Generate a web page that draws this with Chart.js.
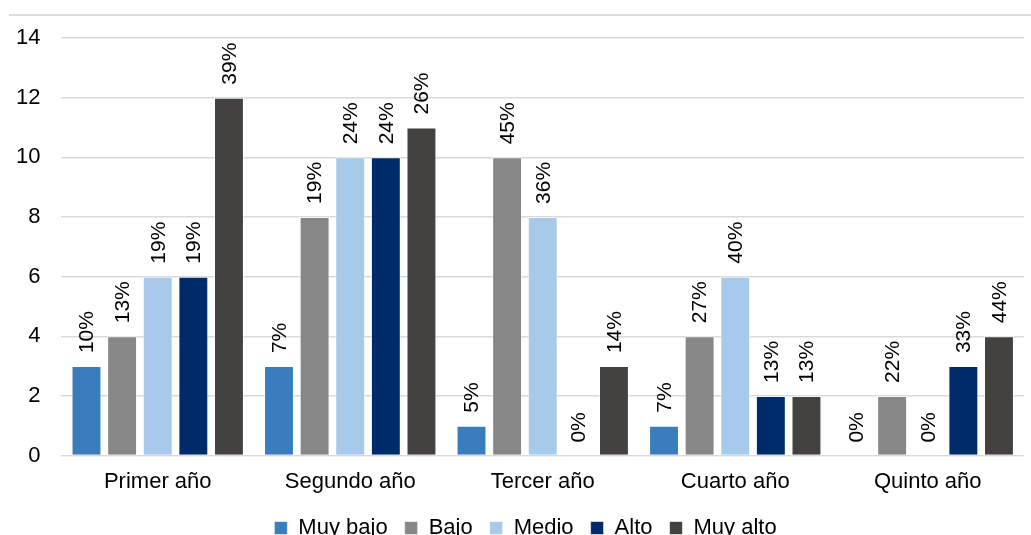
<!DOCTYPE html>
<html>
<head>
<meta charset="utf-8">
<script src="https://cdn.jsdelivr.net/npm/chart.js@4"></script>
<style>
  html, body { margin: 0; padding: 0; background: #fff; }
  #wrap { position: relative; width: 1031px; height: 535px; }
  #topline { position: absolute; left: 9px; right: 0; top: 14px; border-top: 2px solid #dcdcdc; }
</style>
</head>
<body>
<div id="wrap">
  <div id="topline"></div>
  <canvas id="chart" width="1031" height="535"></canvas>
</div>
<script>
const categories = ['Primer año', 'Segundo año', 'Tercer año', 'Cuarto año', 'Quinto año'];
const seriesNames = ['Muy bajo', 'Bajo', 'Medio', 'Alto', 'Muy alto'];
const muyBajo = [3, 3, 1, 1, 0];
const bajo = [4, 8, 10, 4, 2];
const medio = [6, 10, 8, 6, 0];
const alto = [6, 10, 0, 2, 3];
const muyAlto = [12, 11, 3, 2, 4];
const muyBajoPct = ['10%', '7%', '5%', '7%', '0%'];
const bajoPct = ['13%', '19%', '45%', '27%', '22%'];
const medioPct = ['19%', '24%', '36%', '40%', '0%'];
const altoPct = ['19%', '24%', '0%', '13%', '33%'];
const muyAltoPct = ['39%', '26%', '14%', '13%', '44%'];
const yTicks = [0, 2, 4, 6, 8, 10, 12, 14];
const colors = ['#3a7dbc', '#878787', '#a7c9ea', '#002b6b', '#444241'];

const values = [muyBajo, bajo, medio, alto, muyAlto];
const pcts = [muyBajoPct, bajoPct, medioPct, altoPct, muyAltoPct];

const FONT = '"Liberation Sans", Arial, sans-serif';

// rotated percentage labels above each bar
const pctLabels = {
  id: 'pctLabels',
  afterDatasetsDraw(chart) {
    const ctx = chart.ctx;
    ctx.save();
    ctx.font = '21px ' + FONT;
    ctx.fillStyle = '#000';
    ctx.textAlign = 'left';
    ctx.textBaseline = 'middle';
    chart.data.datasets.forEach((ds, i) => {
      chart.getDatasetMeta(i).data.forEach((bar, j) => {
        ctx.save();
        ctx.translate(bar.x + 1, bar.y - 13);
        ctx.rotate(-Math.PI / 2);
        ctx.fillText(ds.pct[j], 0, 0);
        ctx.restore();
      });
    });
    ctx.restore();
  }
};

// nudge the legend to the right, like the original
const legendShift = {
  id: 'legendShift',
  afterLayout(chart) {
    if (chart.legend) {
      chart.legend.left += 16;
      chart.legend.right += 16;
    }
  }
};

new Chart(document.getElementById('chart'), {
  type: 'bar',
  data: {
    labels: categories,
    datasets: seriesNames.map((name, i) => ({
      label: name,
      data: values[i],
      pct: pcts[i],
      backgroundColor: colors[i],
      borderColor: 'rgba(255,255,255,0.6)',
      borderWidth: 1,
      categoryPercentage: 0.925,
      barPercentage: 0.84
    }))
  },
  options: {
    responsive: false,
    animation: false,
    layout: { padding: { top: 38, right: 7, left: -5, bottom: -14 } },
    plugins: {
      tooltip: { enabled: false },
      legend: {
        position: 'bottom',
        labels: {
          boxWidth: 13,
          boxHeight: 13,
          padding: 17,
          color: '#000',
          font: { family: FONT, size: 22 }
        }
      }
    },
    scales: {
      x: {
        grid: { display: false },
        border: { display: false },
        ticks: { color: '#000', padding: 5, font: { family: FONT, size: 22 } }
      },
      y: {
        min: 0,
        max: 14,
        afterBuildTicks(axis) { axis.ticks = yTicks.map(v => ({ value: v })); },
        grid: { color: '#d9d9d9', lineWidth: 1.5, drawTicks: false },
        border: { display: false },
        ticks: { color: '#000', padding: 21, font: { family: FONT, size: 22 } }
      }
    }
  },
  plugins: [pctLabels, legendShift]
});
</script>
</body>
</html>
